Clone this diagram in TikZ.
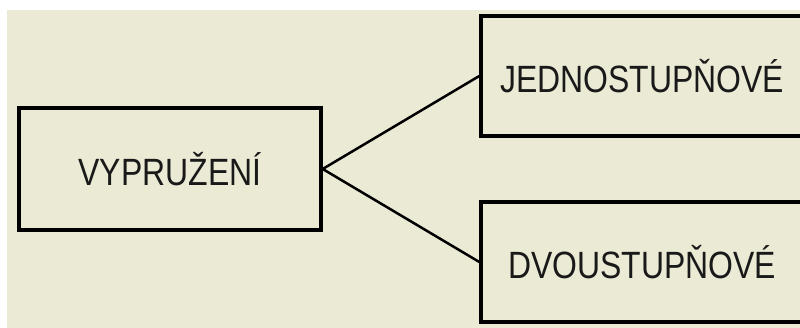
\documentclass[tikz,border=0pt]{standalone}
\usepackage{fontspec}
\setmainfont[FakeStretch=0.84]{Liberation Sans}
\definecolor{bgbeige}{RGB}{235,234,213}
\definecolor{inkc}{RGB}{25,25,25}
\begin{document}
\begin{tikzpicture}[x=1pt,y=1pt,
  box/.style={draw=black,line width=3.4pt,minimum width=302pt,minimum height=122pt,inner sep=0pt,
    font=\fontsize{38}{42}\selectfont,text=inkc},
  rbox/.style={box,minimum width=322pt,minimum height=120pt},
  link/.style={draw=black,line width=2.5pt}]
\useasboundingbox (0,0) rectangle (800,328);
\fill[white] (0,0) rectangle (800,328);
\fill[bgbeige] (7,0) rectangle (800,318);
\node[box] (vyp) at (170,159) {VYPRUŽENÍ};
\node[rbox] (jed) at (642,252) {JEDNOSTUPŇOVÉ};
\node[rbox] (dvo) at (642,66) {DVOUSTUPŇOVÉ};
\draw[link] (vyp.east) -- (jed.west);
\draw[link] (vyp.east) -- (dvo.west);
\end{tikzpicture}
\end{document}
